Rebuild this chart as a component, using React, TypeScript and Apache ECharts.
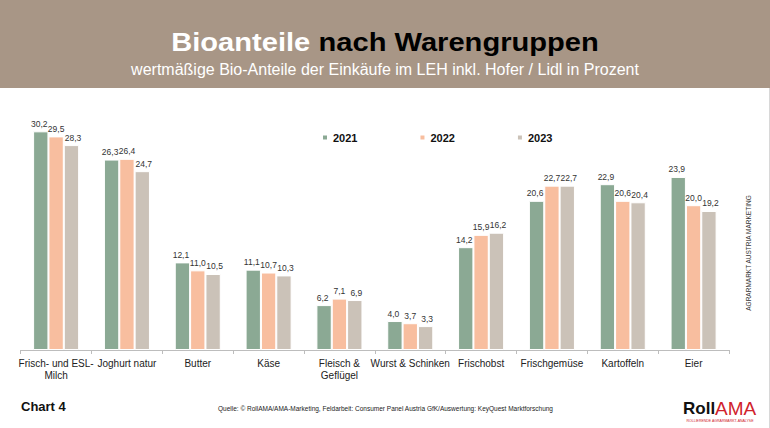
import React, { useEffect, useRef } from "react";
import * as echarts from "echarts";

const categories = [
  "Frisch- und ESL-\nMilch",
  "Joghurt natur",
  "Butter",
  "Käse",
  "Fleisch &\nGeflügel",
  "Wurst & Schinken",
  "Frischobst",
  "Frischgemüse",
  "Kartoffeln",
  "Eier",
];
const years = ["2021", "2022", "2023"];
const values2021 = [30.2, 26.3, 12.1, 11.1, 6.2, 4.0, 14.2, 20.6, 22.9, 23.9];
const values2022 = [29.5, 26.4, 11.0, 10.7, 7.1, 3.7, 15.9, 22.7, 20.6, 20.0];
const values2023 = [28.3, 24.7, 10.5, 10.3, 6.9, 3.3, 16.2, 22.7, 20.4, 19.2];
const colors = ["#8ba994", "#f8be9f", "#cbc2b8"];

const FONT = "'Liberation Sans', Arial, Helvetica, sans-serif";

export default function App() {
  const ref = useRef<HTMLDivElement>(null);
  useEffect(() => {
    if (!ref.current) return;
    const chart = echarts.init(ref.current, undefined, { renderer: "svg" });
    const seriesData = [values2021, values2022, values2023];
    const offsets = [-1.5, 0, 1.5];
    chart.setOption({
      animation: false,
      backgroundColor: "#ffffff",
      textStyle: { fontFamily: FONT },
      legend: {
        data: years,
        left: 316,
        top: 127,
        itemWidth: 6,
        itemHeight: 6,
        itemGap: 61,
        icon: "rect",
        textStyle: { fontSize: 11, fontWeight: "bold", color: "#111", fontFamily: FONT },
      },
      grid: { left: 20.7, right: 41, top: 118.3, bottom: 78, containLabel: false },
      xAxis: {
        type: "category",
        data: categories,
        axisLine: { lineStyle: { color: "#bdbdbd", width: 1 } },
        axisTick: { show: true, length: 4, lineStyle: { color: "#bdbdbd" } },
        axisLabel: { fontSize: 10, color: "#222", margin: 7, lineHeight: 12, fontFamily: FONT, interval: 0 },
      },
      yAxis: { type: "value", min: 0, max: 32, show: false, splitLine: { show: false } },
      series: years.map((y, i) => ({
        name: y,
        type: "bar",
        data: seriesData[i],
        barGap: "0%",
        barCategoryGap: "35%",
        itemStyle: { color: colors[i], borderColor: "#ffffff", borderWidth: 1 },
        label: {
          show: true,
          position: "top",
          distance: 3,
          offset: [offsets[i], 0],
          fontSize: 8.5,
          color: "#333",
          fontFamily: FONT,
          formatter: (p: any) => p.value.toFixed(1).replace(".", ","),
        },
      })),
      graphic: [
        { type: "rect", shape: { x: 0, y: 0, width: 770, height: 88 }, style: { fill: "#a89686" }, silent: true },
        {
          type: "text",
          x: 385,
          y: 42,
          scaleX: 1.12,
          style: {
            text: "{w|Bioanteile}{b| nach Warengruppen}",
            align: "center",
            verticalAlign: "middle",
            rich: {
              w: { fill: "#ffffff", fontSize: 26, fontWeight: "bold", fontFamily: FONT },
              b: { fill: "#000000", fontSize: 26, fontWeight: "bold", fontFamily: FONT },
            },
          },
        },
        {
          type: "text",
          x: 385,
          y: 69,
          style: {
            text: "wertmäßige Bio-Anteile der Einkäufe im LEH inkl. Hofer / Lidl in Prozent",
            align: "center",
            verticalAlign: "middle",
            fill: "#ffffff",
            fontSize: 16,
            fontFamily: FONT,
          },
        },
        { type: "line", shape: { x1: 769.5, y1: 88, x2: 769.5, y2: 428 }, style: { stroke: "#d8d8d8", lineWidth: 1 } },
        {
          type: "text",
          x: 748,
          y: 253,
          rotation: Math.PI / 2,
          style: {
            text: "AGRARMARKT AUSTRIA MARKETING",
            align: "center",
            verticalAlign: "middle",
            fill: "#333",
            fontSize: 6.5,
            fontFamily: FONT,
          },
        },
        {
          type: "text",
          x: 21,
          y: 406,
          style: { text: "Chart 4", verticalAlign: "middle", fill: "#111", fontSize: 13, fontWeight: "bold", fontFamily: FONT },
        },
        {
          type: "text",
          x: 218,
          y: 408,
          style: {
            text: "Quelle: © RollAMA/AMA-Marketing, Feldarbeit: Consumer Panel Austria GfK/Auswertung: KeyQuest Marktforschung",
            verticalAlign: "middle",
            fill: "#222",
            fontSize: 6.5,
            fontFamily: FONT,
          },
        },
        {
          type: "text",
          x: 683,
          y: 408,
          style: {
            text: "{k|Roll}{r|AMA}",
            verticalAlign: "middle",
            rich: {
              k: { fill: "#111", fontSize: 17, fontWeight: "bold", fontFamily: FONT },
              r: { fill: "#d0222c", fontSize: 19, fontFamily: FONT },
            },
          },
        },
        {
          type: "text",
          x: 720,
          y: 421,
          style: {
            text: "ROLLIERENDE AGRARMARKT-ANALYSE",
            align: "center",
            verticalAlign: "middle",
            fill: "#d0222c",
            fontSize: 3.5,
            fontFamily: FONT,
          },
        },
      ],
    });
    return () => chart.dispose();
  }, []);
  return (
    <div
      ref={ref}
      style={{ position: "fixed", left: 0, top: 0, width: 770, height: 428 }}
    />
  );
}
